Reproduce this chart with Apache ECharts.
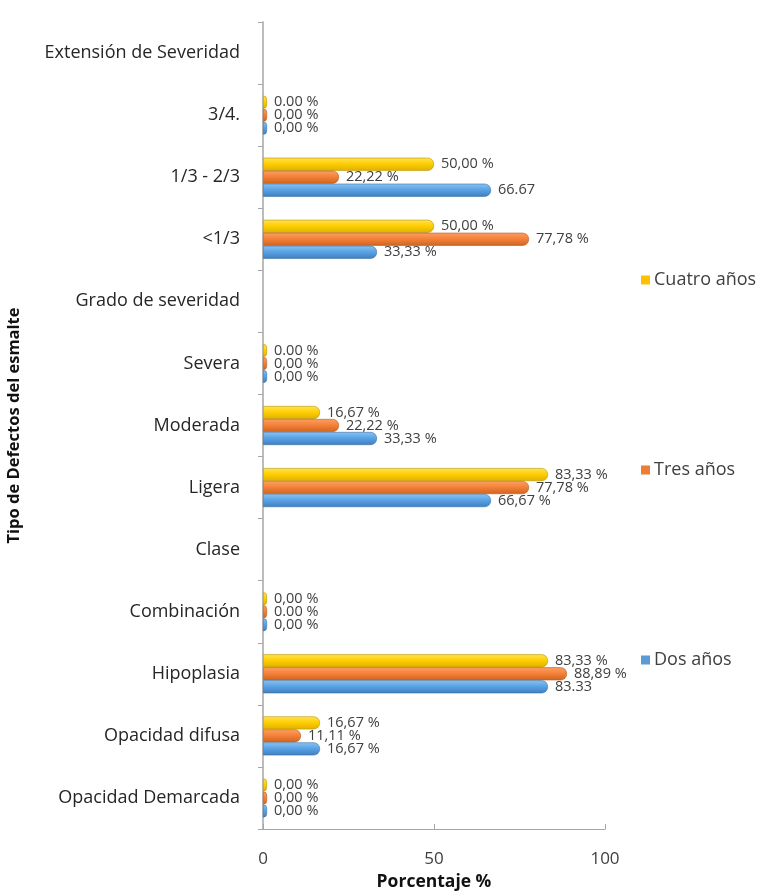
<!DOCTYPE html>
<html>
<head>
<meta charset="utf-8">
<script src="https://cdn.jsdelivr.net/npm/echarts@6/dist/echarts.min.js"></script>
<style>
  html, body { margin: 0; padding: 0; background: #fff; }
  #chart { width: 757px; height: 896px; }
</style>
</head>
<body>
<div id="chart"></div>
<script>
// categorias de abajo hacia arriba
const categories = ["Opacidad Demarcada", "Opacidad difusa", "Hipoplasia", "Combinación", "Clase", "Ligera", "Moderada", "Severa", "Grado de severidad", "<1/3", "1/3 - 2/3", "3/4.", "Extensión de Severidad"];

const dosAnos = [0, 16.67, 83.33, 0, null, 66.67, 33.33, 0, null, 33.33, 66.67, 0, null];
const tresAnos = [0, 11.11, 88.89, 0, null, 77.78, 22.22, 0, null, 77.78, 22.22, 0, null];
const cuatroAnos = [0, 16.67, 83.33, 0, null, 83.33, 16.67, 0, null, 50, 50, 0, null];

// textos de las etiquetas tal como aparecen
const dosLabels = ["0,00 %", "16,67 %", "83.33", "0,00 %", "", "66,67 %", "33,33 %", "0,00 %", "", "33,33 %", "66.67", "0,00 %", ""];
const tresLabels = ["0,00 %", "11,11 %", "88,89 %", "0.00 %", "", "77,78 %", "22,22 %", "0,00 %", "", "77,78 %", "22,22 %", "0,00 %", ""];
const cuatroLabels = ["0,00 %", "16,67 %", "83,33 %", "0,00 %", "", "83,33 %", "16,67 %", "0.00 %", "", "50,00 %", "50,00 %", "0.00 %", ""];

const xTicks = [0, 50, 100];

const FONT = "Open Sans";
const chart = echarts.init(document.getElementById("chart"));

// degradado para dar aspecto de cilindro
const grad = (light, mid, dark) => new echarts.graphic.LinearGradient(0, 0, 0, 1, [
  { offset: 0, color: light },
  { offset: 0.45, color: mid },
  { offset: 1, color: dark },
]);

const makeSeries = (name, data, labels, colors, edge) => ({
  name,
  type: "bar",
  data,
  barWidth: 13,
  barGap: "0%",
  barMinHeight: 4,
  itemStyle: {
    color: grad(colors[0], colors[1], colors[2]),
    borderColor: edge,
    borderWidth: 0.6,
    borderRadius: [0, 6, 6, 0],
  },
  label: {
    show: true,
    position: "right",
    distance: 7,
    fontFamily: FONT,
    fontSize: 14.5,
    color: "#404040",
    formatter: (p) => labels[p.dataIndex],
  },
});

const option = {
  animation: false,
  backgroundColor: "#fff",
  grid: { left: 263, right: 152, top: 22, bottom: 67, outerBoundsMode: "none", containLabel: false },
  legend: {
    orient: "vertical",
    left: 636,
    top: 266,
    itemWidth: 9,
    itemHeight: 9,
    itemGap: 172,
    icon: "rect",
    data: [
      { name: "Cuatro años", itemStyle: { color: "#ffc000", borderWidth: 0 } },
      { name: "Tres años", itemStyle: { color: "#ed7d31", borderWidth: 0 } },
      { name: "Dos años", itemStyle: { color: "#5b9bd5", borderWidth: 0 } },
    ],
    textStyle: { fontFamily: FONT, fontSize: 18, color: "#404040", padding: [0, 0, 0, -1] },
  },
  xAxis: {
    type: "value",
    min: 0,
    max: 100,
    interval: 50,
    name: "Porcentaje %",
    nameLocation: "middle",
    nameGap: 44,
    nameTextStyle: { fontFamily: FONT, fontSize: 17.5, fontWeight: "bold", color: "#111" },
    axisLine: { show: true, lineStyle: { color: "#a6a6a6" } },
    axisTick: { show: true, inside: true, length: 5, lineStyle: { color: "#a6a6a6" } },
    axisLabel: { fontFamily: FONT, fontSize: 17, color: "#404040", margin: 22, customValues: xTicks },
    splitLine: { show: false },
  },
  yAxis: {
    type: "category",
    data: categories,
    name: "Tipo de Defectos del esmalte",
    nameLocation: "middle",
    nameGap: 240,
    nameTextStyle: { fontFamily: FONT, fontSize: 16.5, fontWeight: "bold", color: "#111" },
    axisLine: { show: true, lineStyle: { color: "#a6a6a6", width: 1.5 } },
    axisTick: { show: true, length: 5, lineStyle: { color: "#a6a6a6" } },
    axisLabel: { fontFamily: FONT, fontSize: 18, color: "#262626", margin: 23 },
  },
  // en barras horizontales la primera serie queda arriba
  series: [
    makeSeries("Cuatro años", cuatroAnos, cuatroLabels, ["#ffe35a", "#ffd000", "#e0b000"], "#b89400"),
    makeSeries("Tres años", tresAnos, tresLabels, ["#fca066", "#f5823a", "#cf6420"], "#b85a1e"),
    makeSeries("Dos años", dosAnos, dosLabels, ["#8cc3f2", "#5aa3e6", "#3f7fbf"], "#3a6fa3"),
  ],
};

chart.setOption(option);
</script>
</body>
</html>
